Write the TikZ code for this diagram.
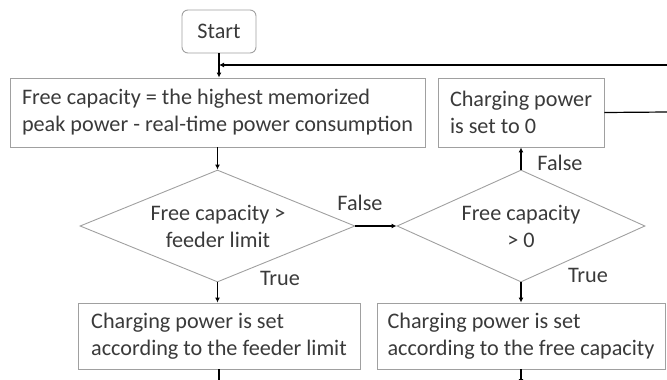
\documentclass[tikz,border=0pt]{standalone}
\usepackage{fontspec}
\setmainfont{Carlito}
\usetikzlibrary{shapes.geometric,arrows.meta}
\definecolor{txt}{HTML}{3A3A3A}
\definecolor{bord}{HTML}{A0A0A0}
\begin{document}
\begin{tikzpicture}[x=1pt,y=-1pt,
  font=\fontsize{22.2}{27}\selectfont,
  box/.style={draw=bord, line width=0.9pt, rectangle, align=left, inner sep=0pt, text=txt},
  dia/.style={draw=bord, line width=0.9pt, diamond, inner sep=0pt},
  dtext/.style={align=center, text=txt, inner sep=0pt},
  lbl/.style={text=txt, inner sep=0pt},
  arr/.style={draw=black, line width=1.2pt, -{Latex[length=5pt,width=5pt]}},
  ln/.style={draw=black, line width=1.2pt}]
\useasboundingbox (0,0) rectangle (667,380);
% nodes
\node[box, rounded corners=6pt, minimum width=74pt, minimum height=43pt] (start) at (219,31.5) {Start};
\node[box, minimum width=415pt, minimum height=69pt] (b1) at (217.5,112.5)
  {Free capacity = the highest memorized\\peak power - real-time power consumption};
\node[box, minimum width=166pt, minimum height=69pt] (b0) at (521,112.5)
  {Charging power\\is set to 0};
\node[dia, minimum width=275pt, minimum height=112pt] (d1) at (217.5,226) {};
\node[dtext] (d1t) at (218,226.5) {Free capacity >\\feeder limit};
\node[dia, minimum width=248pt, minimum height=112pt] (d2) at (521,226) {};
\node[dtext] (d2t) at (521,226.5) {Free capacity\\> 0};
\node[box, minimum width=282pt, minimum height=66pt] (b3) at (219,336)
  {Charging power is set\\according to the feeder limit};
\node[box, minimum width=288pt, minimum height=66pt] (b4) at (521,336)
  {Charging power is set\\according to the free capacity};
% labels
\node[lbl] (lf1) at (360,203) {False};
\node[lbl] (lf2) at (560,163) {False};
\node[lbl] (lt1) at (280,278) {True};
\node[lbl] (lt2) at (588,275) {True};
% free ends
\coordinate (r1) at (668,112);
\coordinate (r2) at (668,65);
\coordinate (e3) at (219,381);
\coordinate (e4) at (521,384);
% connectors
\draw[arr] (start.south) -- (start.south |- b1.north);
\draw[arr] (r2) -- (start.south |- r2);
\draw[arr] (b1.south) -- (d1.north);
\draw[arr] (d1.east) -- (d2.west);
\draw[arr] (d2.north) -- (b0.south);
\draw[ln] (b0.east) -- (r1);
\draw[arr] (d1.south) -- (d1.south |- b3.north);
\draw[arr] (d2.south) -- (b4.north);
\draw[ln] (b3.south) -- (e3);
\draw[arr] (b4.south) -- (e4);
\end{tikzpicture}
\end{document}
